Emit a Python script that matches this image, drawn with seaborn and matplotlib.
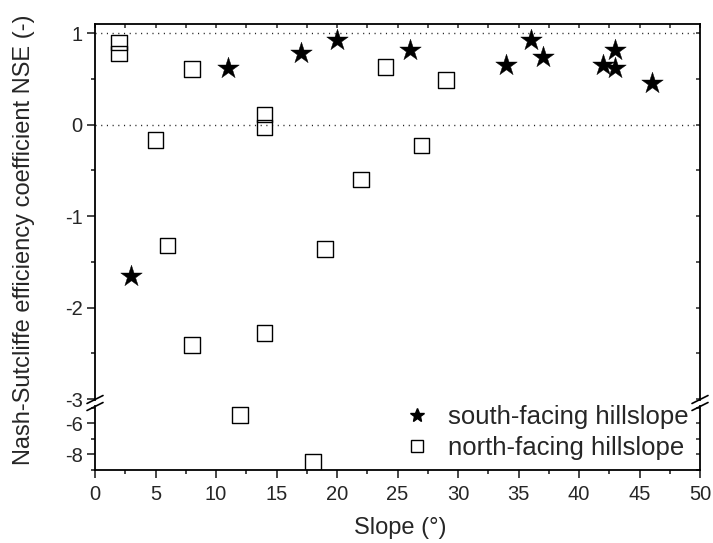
import matplotlib
matplotlib.use("Agg")
import matplotlib.pyplot as plt
from matplotlib.lines import Line2D
from matplotlib.ticker import MultipleLocator, FixedLocator
import seaborn as sns
import pandas as pd

# Nash-Sutcliffe efficiency per hillslope vs. slope angle
south_slope = [3, 11, 17, 20, 26, 34, 36, 37, 42, 43, 43, 46]
south_nse = [-1.66, 0.62, 0.78, 0.92, 0.82, 0.65, 0.93, 0.74, 0.65, 0.82, 0.62, 0.46]

north_slope = [2, 2, 5, 6, 8, 8, 12, 14, 14, 14, 18, 19, 22, 24, 27, 29]
north_nse = [0.90, 0.78, -0.17, -1.32, 0.61, -2.41, -5.46, 0.11, -0.03, -2.28,
             -8.50, -1.36, -0.60, 0.63, -0.23, 0.49]

series_labels = ["south-facing hillslope", "north-facing hillslope"]
x_label = "Slope (°)"
y_label = "Nash-Sutcliffe efficiency coefficient NSE (-)"

south = pd.DataFrame({"slope": south_slope, "nse": south_nse})
north = pd.DataFrame({"slope": north_slope, "nse": north_nse})

sns.set_style("ticks")
plt.rcParams["font.family"] = ["Liberation Sans", "DejaVu Sans"]
plt.rcParams["axes.unicode_minus"] = False

TICK_FS = 14.5
LABEL_FS = 17
LEGEND_FS = 18.5

W, H = 713, 543
fig = plt.figure(figsize=(W / 100, H / 100), dpi=100)


def frac_box(left, top, right, bottom):
    return [left / W, 1 - bottom / H, (right - left) / W, (bottom - top) / H]


LEFT, RIGHT = 95, 700
ax_hi = fig.add_axes(frac_box(LEFT, 24, RIGHT, 400))
ax_lo = fig.add_axes(frac_box(LEFT, 406, RIGHT, 470))

for ax in (ax_hi, ax_lo):
    ax.set_xlim(0, 50)
    ax.axhline(1, color="#222222", lw=1, ls=(0, (0.8, 3.3)), zorder=1)
    ax.axhline(0, color="#222222", lw=1, ls=(0, (0.8, 3.3)), zorder=1)
    sns.scatterplot(data=south, x="slope", y="nse", ax=ax, marker="*", s=265,
                    color="black", edgecolor="black", linewidth=0.3,
                    legend=False, zorder=3)
    sns.scatterplot(data=north, x="slope", y="nse", ax=ax, marker="s", s=125,
                    facecolor="none", edgecolor="black", linewidth=1.0,
                    legend=False, zorder=3)
    ax.set_xlabel("")
    ax.set_ylabel("")
    for sp in ax.spines.values():
        sp.set_linewidth(1.3)
        sp.set_color("black")
    ax.xaxis.set_major_locator(MultipleLocator(5))
    ax.xaxis.set_minor_locator(MultipleLocator(2.5))

ax_hi.set_ylim(-3.01, 1.10)
ax_lo.set_ylim(-9.0, -4.9)

ax_hi.spines["bottom"].set_visible(False)
ax_lo.spines["top"].set_visible(False)

ax_hi.yaxis.set_major_locator(MultipleLocator(1))
ax_hi.yaxis.set_minor_locator(MultipleLocator(0.5))
ax_lo.yaxis.set_major_locator(FixedLocator([-8, -6]))
ax_lo.yaxis.set_minor_locator(FixedLocator([-9, -7, -5]))

# upper panel: ticks on the top (inside), none at the break
ax_hi.tick_params(axis="x", which="both", bottom=False, labelbottom=False,
                  top=True, direction="in", width=1.1, length=3)
ax_lo.tick_params(axis="x", which="both", direction="out", width=1.2,
                  top=False, bottom=True, labelsize=TICK_FS, pad=5)
ax_lo.tick_params(axis="x", which="major", length=6)
ax_lo.tick_params(axis="x", which="minor", length=3)

for ax in (ax_hi, ax_lo):
    ax.tick_params(axis="y", which="both", left=True, right=False,
                   direction="out", width=1.2, labelsize=TICK_FS, pad=3)
    ax.tick_params(axis="y", which="major", length=6)
    ax.tick_params(axis="y", which="minor", length=3)

# right-hand mirror ticks point inward
for ax in (ax_hi, ax_lo):
    sec = ax.secondary_yaxis("right")
    sec.spines["right"].set_visible(False)
    sec.yaxis.set_major_locator(ax.yaxis.get_major_locator())
    sec.yaxis.set_minor_locator(ax.yaxis.get_minor_locator())
    sec.tick_params(axis="y", which="both", direction="in", length=3,
                    width=1.1, labelright=False)


# break marks on both vertical spines
def slash(xc, yc, dx=8, dy=4):
    fig.add_artist(Line2D([(xc - dx) / W, (xc + dx) / W],
                          [1 - (yc + dy) / H, 1 - (yc - dy) / H],
                          color="black", lw=1.2))


for xc in (LEFT, RIGHT):
    slash(xc, 399.5)
    slash(xc, 406.5)

fig.text(24 / W, 1 - 240 / H, y_label, rotation=90, ha="center", va="center",
         fontsize=LABEL_FS)
fig.text(400 / W, 1 - 528 / H, x_label, ha="center", va="center",
         fontsize=LABEL_FS)

handles = [
    Line2D([], [], marker="*", ls="none", color="black", markersize=10),
    Line2D([], [], marker="s", ls="none", markerfacecolor="none",
           markeredgecolor="black", markeredgewidth=1.0, markersize=8),
]
fig.legend(handles, series_labels, loc="upper left",
           bbox_to_anchor=(404 / W, 1 - 405 / H), frameon=False,
           borderaxespad=0, borderpad=0, handlelength=1.0,
           handletextpad=0.71, labelspacing=0.27, fontsize=LEGEND_FS)

fig.savefig("out.png", dpi=100)
